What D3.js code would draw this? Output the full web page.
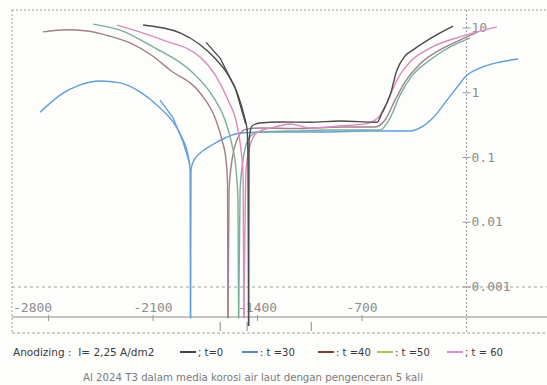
<!DOCTYPE html>
<html>
<head>
<meta charset="utf-8">
<script src="https://cdn.jsdelivr.net/npm/d3@7"></script>
<style>
  body { margin: 0; background: #fdfdfb; }
  svg { display: block; }
  .pre { white-space: pre; }
</style>
</head>
<body>
<script>
// potential (mV) vs current density, Al 2024 T3 after anodizing
var seriesNames = ["t=0", "t=30", "t=40", "t=50", "t=60"]
var lineColors = ["#4a4a4a", "#5d9fdc", "#a08088", "#79ae9c", "#d98bc0"]
var legendColors = ["#444444", "#5d88c8", "#8a3a30", "#a8c850", "#d890d0"]

var t0 = [[-2167, 11.1], [-1919, 8.4], [-1785, 5.5], [-1685, 3.4], [-1598, 1.9], [-1531, 0.92],
  [-1491, 0.45], [-1470, 0.27], [-1464, 0.091], [-1460, 0.00025], [-1457, 0.186], [-1437, 0.307],
  [-1383, 0.341], [-1249, 0.353], [-1048, 0.35], [-847, 0.366], [-600, 0.35], [-566, 0.486],
  [-512, 0.92], [-466, 2.24], [-412, 3.7], [-358, 4.6], [-224, 7.3], [-90, 10.7]]
var t0back = [[-1745, 6.0], [-1650, 3.4], [-1550, 1.2], [-1480, 0.33]]

var t30 = [[-2857, 0.50], [-2723, 0.92], [-2589, 1.32], [-2455, 1.52], [-2321, 1.42], [-2187, 1.03],
  [-2053, 0.58], [-1953, 0.32], [-1899, 0.186], [-1866, 0.109], [-1852, 0.064], [-1849, 0.00033],
  [-1846, 0.064], [-1832, 0.085], [-1785, 0.117], [-1705, 0.156], [-1618, 0.20], [-1517, 0.239],
  [-1316, 0.248], [-981, 0.248], [-646, 0.256], [-379, 0.256], [-312, 0.286], [-224, 0.41],
  [-131, 0.77], [-57, 1.27], [-10, 1.75], [90, 2.41], [224, 2.98], [345, 3.32]]
var t30back = [[-2053, 0.77], [-1966, 0.41], [-1899, 0.173], [-1852, 0.077]]

var t40 = [[-2837, 8.7], [-2680, 9.4], [-2542, 9.0], [-2400, 7.6], [-2254, 5.9], [-2110, 3.8],
  [-1986, 2.24], [-1785, 0.99], [-1685, 0.41],
  [-1638, 0.186], [-1611, 0.091], [-1601, 0.0376], [-1598, 0.00033], [-1591, 0.0315], [-1571, 0.091],
  [-1538, 0.186], [-1484, 0.27], [-1383, 0.286], [-1115, 0.28], [-847, 0.296], [-613, 0.296],
  [-546, 0.38], [-479, 0.77], [-412, 1.47], [-312, 2.78], [-178, 4.6], [-44, 6.5], [77, 8.7]]

var t50 = [[-2502, 11.5], [-2321, 9.3], [-2100, 5.1], [-1832, 2.02], [-1705, 0.92], [-1618, 0.38],
  [-1571, 0.156], [-1544, 0.064], [-1531, 0.022], [-1527, 0.00033], [-1517, 0.0315], [-1497, 0.091],
  [-1464, 0.186], [-1397, 0.248], [-1182, 0.256], [-914, 0.266], [-579, 0.266], [-512, 0.41],
  [-446, 0.92], [-366, 1.82], [-245, 3.2], [-111, 5.1], [23, 7.0]]

var t60 = [[-2341, 11.1], [-2033, 6.5], [-1785, 3.56], [-1685, 1.9], [-1598, 0.77], [-1538, 0.32],
  [-1511, 0.131], [-1497, 0.054], [-1491, 0.00033], [-1477, 0.064], [-1450, 0.156], [-1397, 0.248],
  [-1283, 0.296], [-1182, 0.33], [-1048, 0.286], [-847, 0.307], [-680, 0.33], [-593, 0.41],
  [-526, 0.77], [-466, 1.57], [-379, 2.98], [-245, 4.9], [-44, 7.3], [204, 10.4]]

var xTicks = [-2800, -2100, -1400, -700]
var yTicks = [10, 1, 0.1, 0.01, 0.001]
var yTickLabels = ["10", "1", "0.1", "0.01", "0.001"]
var markerE = [-1650, -1470, -1040]

var width = 547
var height = 385

var svg = d3.select("body").append("svg")
  .attr("width", width)
  .attr("height", height)

var x = d3.scaleLinear().domain([-3045, 539]).range([12, 547])
var y = d3.scaleLog().domain([0.001, 10]).range([287, 28])

var frame = "#a0a0a0"

// frame and grid
svg.append("line").attr("x1", 12).attr("x2", 547).attr("y1", 10).attr("y2", 10)
  .attr("stroke", frame).attr("stroke-dasharray", "2,2")
svg.append("line").attr("x1", 12).attr("x2", 12).attr("y1", 10).attr("y2", 333)
  .attr("stroke", frame).attr("stroke-dasharray", "2,2")
svg.append("line").attr("x1", 12).attr("x2", 547).attr("y1", y(0.001)).attr("y2", y(0.001))
  .attr("stroke", frame).attr("stroke-dasharray", "3,3")
svg.append("line").attr("x1", x(0)).attr("x2", x(0)).attr("y1", 10).attr("y2", 333)
  .attr("stroke", frame).attr("stroke-dasharray", "2,2")
svg.append("line").attr("x1", 12).attr("x2", 547).attr("y1", 317).attr("y2", 317)
  .attr("stroke", "#8c8c8c").attr("stroke-width", 1.2)
svg.append("line").attr("x1", 12).attr("x2", 547).attr("y1", 333).attr("y2", 333)
  .attr("stroke", frame).attr("stroke-dasharray", "3,2")

// x axis labels and ticks
svg.selectAll(".xt").data(xTicks).enter().append("line")
  .attr("x1", d => x(d)).attr("x2", d => x(d))
  .attr("y1", 315).attr("y2", 321)
  .attr("stroke", "#999")
svg.selectAll(".xl").data(xTicks).enter().append("text")
  .attr("x", d => x(d) - (d == -2800 ? 16 : 0))
  .attr("y", 312)
  .attr("text-anchor", "middle")
  .attr("font-family", "DejaVu Sans Mono")
  .attr("font-size", 13)
  .attr("fill", "#8e8e8e")
  .text(d => d)

svg.selectAll(".mk").data(markerE).enter().append("line")
  .attr("x1", d => x(d)).attr("x2", d => x(d))
  .attr("y1", 322).attr("y2", 331)
  .attr("stroke", "#888")

// y axis labels
svg.selectAll(".yt").data(yTicks).enter().append("line")
  .attr("x1", x(0) - 4).attr("x2", x(0) + 4)
  .attr("y1", d => y(d)).attr("y2", d => y(d))
  .attr("stroke", "#999")
svg.selectAll(".yl").data(yTicks).enter().append("text")
  .attr("x", x(0) + 5)
  .attr("y", d => y(d) + 4)
  .attr("font-family", "DejaVu Sans Mono")
  .attr("font-size", 13)
  .attr("fill", "#8e8e8e")
  .text((d, i) => yTickLabels[i])

// curves
svg.append("clipPath").attr("id", "clip")
  .append("rect").attr("x", 12).attr("y", 10).attr("width", 535).attr("height", 316)

var line = d3.line()
  .x(d => x(d[0]))
  .y(d => y(d[1]))
  .curve(d3.curveMonotoneX)

var lineBack = d3.line()
  .x(d => x(d[0]))
  .y(d => y(d[1]))

var allSeries = [t0, t30, t40, t50, t60]
var g = svg.append("g").attr("clip-path", "url(#clip)")

// draw in the order that looks right on top
var order = [1, 2, 3, 4, 0]
order.forEach(function(i) {
  var pts = allSeries[i]
  var dipIdx = d3.minIndex(pts, d => d[1])
  g.append("path")
    .attr("d", line(pts.slice(0, dipIdx + 1)))
    .attr("fill", "none")
    .attr("stroke", lineColors[i])
    .attr("stroke-width", 1.4)
  g.append("path")
    .attr("d", line(pts.slice(dipIdx)))
    .attr("fill", "none")
    .attr("stroke", lineColors[i])
    .attr("stroke-width", 1.4)
})

g.append("path").attr("d", lineBack(t0back))
  .attr("fill", "none").attr("stroke", lineColors[0]).attr("stroke-width", 1.3)
g.append("path").attr("d", lineBack(t30back))
  .attr("fill", "none").attr("stroke", lineColors[1]).attr("stroke-width", 1.3)

// legend
var legY = 352
svg.append("text")
  .attr("class", "pre")
  .attr("x", 13).attr("y", legY + 4)
  .attr("font-family", "DejaVu Sans")
  .attr("font-size", 10.5)
  .attr("fill", "#3a3a3a")
  .text("Anodizing :  I= 2,25 A/dm2")

var legX = [180, 242, 318, 377, 447]
var legText = ["; t=0", ": t =30", ": t =40", ": t =50", "; t = 60"]
seriesNames.forEach(function(name, i) {
  svg.append("line")
    .attr("x1", legX[i]).attr("x2", legX[i] + 16)
    .attr("y1", legY).attr("y2", legY)
    .attr("stroke", legendColors[i]).attr("stroke-width", 2)
  svg.append("text")
    .attr("x", legX[i] + 18).attr("y", legY + 4)
    .attr("font-family", "DejaVu Sans")
    .attr("font-size", 10)
    .attr("fill", "#3a3a3a")
    .text(legText[i])
})

svg.append("text")
  .attr("x", 253).attr("y", 381)
  .attr("text-anchor", "middle")
  .attr("font-family", "DejaVu Sans")
  .attr("font-size", 10.2)
  .attr("fill", "#7a7a7a")
  .text("Al 2024 T3 dalam media korosi air laut dengan pengenceran 5 kali")
</script>
</body>
</html>
